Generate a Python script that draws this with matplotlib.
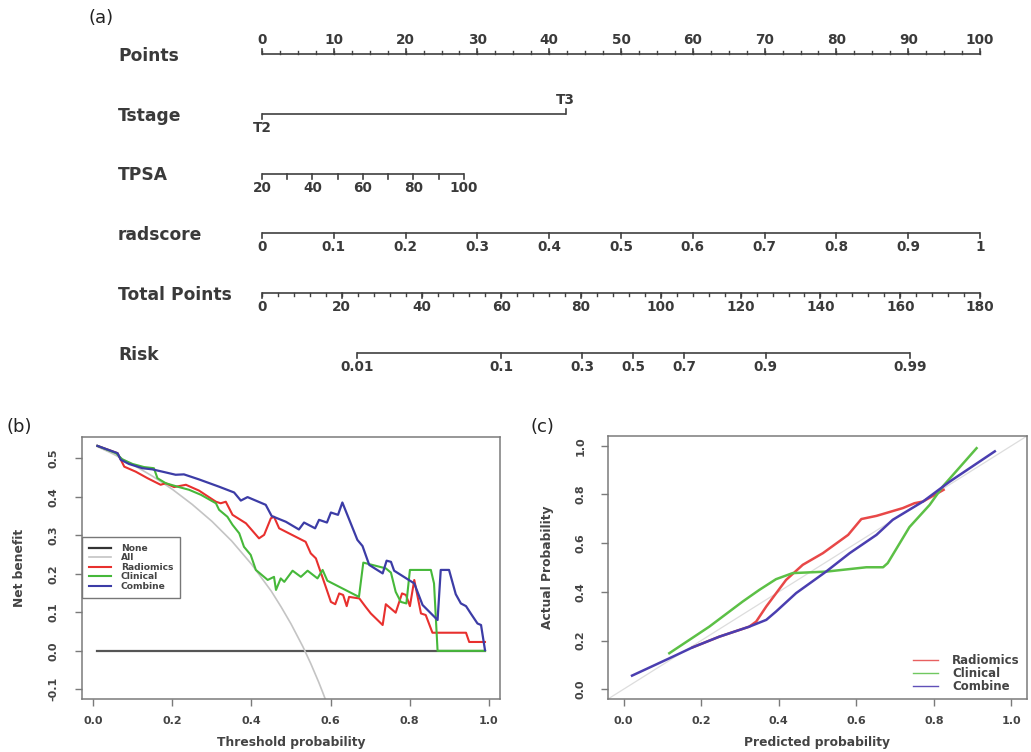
import matplotlib
matplotlib.use("Agg")
import matplotlib.pyplot as plt
from matplotlib.lines import Line2D
import numpy as np

plt.rcParams['font.family'] = ['DejaVu Sans']

# ---------------- (a) nomogram ----------------
points_ticks = [0, 10, 20, 30, 40, 50, 60, 70, 80, 90, 100]
tstage_levels = ['T2', 'T3']
tstage_points = [0, 42.3]
tpsa_ticks = [20, 30, 40, 50, 60, 70, 80, 90, 100]
tpsa_labels = ['20', '', '40', '', '60', '', '80', '', '100']
tpsa_max_points = 28.1
radscore_ticks = [0, 0.1, 0.2, 0.3, 0.4, 0.5, 0.6, 0.7, 0.8, 0.9, 1]
radscore_labels = ['0', '0.1', '0.2', '0.3', '0.4', '0.5', '0.6', '0.7', '0.8', '0.9', '1']
total_ticks = [0, 20, 40, 60, 80, 100, 120, 140, 160, 180]
risk_ticks = [0.01, 0.1, 0.3, 0.5, 0.7, 0.9, 0.99]
risk_intercept = 93.1   # total points where risk = 0.5
risk_slope = 15.08      # total points per logit unit

# ---------------- (b) decision curve ----------------
all_x = [0.01, 0.05, 0.10, 0.15, 0.20, 0.25, 0.30, 0.35, 0.40, 0.45, 0.475, 0.50, 0.53, 0.55, 0.56, 0.57, 0.58, 0.59]
all_y = [0.530, 0.511, 0.483, 0.453, 0.419, 0.380, 0.336, 0.285, 0.225, 0.155, 0.114, 0.070, 0.011, -0.033, -0.057, -0.081, -0.107, -0.134]

rad_x = [0.01, 0.061, 0.078, 0.107, 0.137, 0.170, 0.183, 0.204, 0.234, 0.267, 0.310, 0.322, 0.335, 0.352, 0.386,
         0.419, 0.432, 0.449, 0.457, 0.470, 0.512, 0.537, 0.550, 0.563, 0.588, 0.601, 0.612, 0.622, 0.632, 0.641,
         0.647, 0.673, 0.689, 0.702, 0.732, 0.740, 0.765, 0.781, 0.791, 0.801, 0.812, 0.829, 0.841, 0.858, 0.943,
         0.951, 0.991]
rad_y = [0.532, 0.513, 0.478, 0.465, 0.448, 0.431, 0.435, 0.425, 0.431, 0.416, 0.387, 0.383, 0.387, 0.353, 0.331,
         0.292, 0.301, 0.344, 0.348, 0.318, 0.296, 0.283, 0.253, 0.240, 0.166, 0.127, 0.121, 0.149, 0.145, 0.116,
         0.140, 0.136, 0.114, 0.097, 0.067, 0.121, 0.099, 0.149, 0.145, 0.116, 0.184, 0.097, 0.093, 0.047, 0.047,
         0.023, 0.023]

cli_x = [0.01, 0.057, 0.073, 0.099, 0.128, 0.153, 0.162, 0.183, 0.213, 0.242, 0.272, 0.310, 0.318, 0.339, 0.352,
         0.369, 0.381, 0.398, 0.411, 0.441, 0.457, 0.462, 0.474, 0.483, 0.504, 0.525, 0.542, 0.567, 0.580, 0.592,
         0.672, 0.683, 0.740, 0.753, 0.765, 0.778, 0.792, 0.801, 0.854, 0.862, 0.871, 0.991]
cli_y = [0.532, 0.513, 0.497, 0.485, 0.477, 0.474, 0.448, 0.435, 0.426, 0.418, 0.405, 0.383, 0.366, 0.348, 0.327,
         0.305, 0.270, 0.249, 0.210, 0.184, 0.192, 0.158, 0.188, 0.179, 0.208, 0.192, 0.208, 0.188, 0.210, 0.182,
         0.140, 0.229, 0.214, 0.203, 0.153, 0.127, 0.123, 0.210, 0.210, 0.175, 0.0, 0.0]

com_x = [0.01, 0.061, 0.069, 0.090, 0.124, 0.149, 0.179, 0.208, 0.229, 0.267, 0.318, 0.356, 0.373, 0.390, 0.436,
         0.451, 0.487, 0.520, 0.533, 0.561, 0.571, 0.591, 0.601, 0.619, 0.630, 0.668, 0.681, 0.698, 0.732, 0.742,
         0.753, 0.761, 0.812, 0.833, 0.871, 0.879, 0.900, 0.917, 0.930, 0.943, 0.955, 0.972, 0.981, 0.991]
com_y = [0.532, 0.513, 0.496, 0.485, 0.474, 0.471, 0.464, 0.457, 0.458, 0.445, 0.426, 0.411, 0.390, 0.399, 0.379,
         0.350, 0.335, 0.315, 0.333, 0.318, 0.340, 0.333, 0.359, 0.353, 0.385, 0.288, 0.272, 0.223, 0.201, 0.234,
         0.231, 0.208, 0.175, 0.119, 0.080, 0.210, 0.210, 0.147, 0.123, 0.116, 0.097, 0.071, 0.067, 0.002]

# ---------------- (c) calibration ----------------
cal_rad_x = [0.178, 0.247, 0.324, 0.342, 0.368, 0.419, 0.462, 0.514, 0.579, 0.613, 0.652, 0.720, 0.750, 0.772, 0.825]
cal_rad_y = [0.172, 0.216, 0.257, 0.278, 0.340, 0.449, 0.511, 0.559, 0.634, 0.699, 0.712, 0.744, 0.764, 0.771, 0.819]
cal_cli_x = [0.118, 0.221, 0.307, 0.350, 0.393, 0.436, 0.522, 0.626, 0.669, 0.681, 0.720, 0.737, 0.789, 0.823, 0.910]
cal_cli_y = [0.148, 0.257, 0.360, 0.408, 0.452, 0.477, 0.483, 0.501, 0.501, 0.518, 0.621, 0.666, 0.757, 0.833, 0.990]
cal_com_x = [0.022, 0.118, 0.178, 0.247, 0.324, 0.368, 0.393, 0.445, 0.522, 0.583, 0.652, 0.694, 0.772, 0.841, 0.957]
cal_com_y = [0.056, 0.127, 0.172, 0.216, 0.257, 0.285, 0.319, 0.395, 0.483, 0.559, 0.634, 0.696, 0.771, 0.853, 0.977]

RED = '#e8302e'
GREEN = '#46b83a'
BLUE = '#3c3ca6'
TXT = '#3a3a3a'
LINE = '#404040'

fig = plt.figure(figsize=(10.31, 7.52), dpi=100)

# nomogram axes: x in "points" units, y in row units
axa = fig.add_axes([0, 352 / 752, 1, 400 / 752])
axa.set_xlim(-262 / 7.18, (1031 - 262) / 7.18)
row_px = 59.8
axa.set_ylim((400 - 54) / row_px, -54 / row_px)
axa.axis('off')

tick_major = 5 / row_px
tick_minor = 3 / row_px
lab_off = 14.0 / row_px
fs_nom = 9.8


def draw_scale(row, pos, labels, sides, minor=()):
    axa.plot([min(pos), max(pos)], [row, row], color=LINE, lw=1.2, solid_capstyle='butt')
    for p, lab, side in zip(pos, labels, sides):
        s = -1 if side == 'above' else 1
        axa.plot([p, p], [row, row + s * tick_major], color=LINE, lw=1.2)
        if lab:
            axa.text(p, row + s * lab_off, lab, ha='center', va='center', fontsize=fs_nom,
                     color=TXT, fontweight='bold')
    s = -1 if sides[0] == 'above' else 1
    for p in minor:
        axa.plot([p, p], [row, row + s * tick_minor], color=LINE, lw=1.0)


row_names = ['Points', 'Tstage', 'TPSA', 'radscore', 'Total Points', 'Risk']
for i, name in enumerate(row_names):
    axa.text(-20.06, i + 0.03, name, ha='left', va='center', fontsize=12.3, color=TXT, fontweight='bold')

# Points
draw_scale(0, points_ticks, [str(v) for v in points_ticks], ['above'] * len(points_ticks),
           minor=np.arange(0, 100.01, 2.5))
# Tstage
draw_scale(1, tstage_points, tstage_levels, ['below', 'above'])
# TPSA
tpsa_pts = [(v - tpsa_ticks[0]) / (tpsa_ticks[-1] - tpsa_ticks[0]) * tpsa_max_points for v in tpsa_ticks]
draw_scale(2, tpsa_pts, tpsa_labels, ['below'] * len(tpsa_pts))
# radscore
draw_scale(3, [v * 100 for v in radscore_ticks], radscore_labels, ['below'] * len(radscore_ticks))
# Total points
draw_scale(4, [v * 100 / 180 for v in total_ticks], [str(v) for v in total_ticks], ['below'] * len(total_ticks),
           minor=np.arange(0, 180.01, 4) * 100 / 180)
# Risk
risk_total = [risk_intercept + risk_slope * np.log(r / (1 - r)) for r in risk_ticks]
draw_scale(5, [t * 100 / 180 for t in risk_total], [str(r) for r in risk_ticks], ['below'] * len(risk_ticks))

fig.text(89 / 1031, 1 - 18 / 752, '(a)', fontsize=13, color='#222222', va='center', ha='left')
fig.text(7 / 1031, 1 - 427 / 752, '(b)', fontsize=13, color='#222222', va='center', ha='left')
fig.text(530 / 1031, 1 - 427 / 752, '(c)', fontsize=13, color='#222222', va='center', ha='left')


def style_axes(ax, ypad):
    for sp in ax.spines.values():
        sp.set_color('#7a7a7a')
        sp.set_linewidth(1.1)
    ax.tick_params(direction='out', length=5, width=1, color='#7a7a7a', labelcolor='#444444', labelsize=8)
    ax.tick_params(axis='x', pad=7)
    ax.tick_params(axis='y', pad=ypad)
    for t in ax.get_xticklabels() + ax.get_yticklabels():
        t.set_fontweight('bold')
    plt.setp(ax.get_yticklabels(), rotation=90, va='center')


# ---------------- (b) ----------------
axb = fig.add_axes([82 / 1031, 53 / 752, 418 / 1031, 262 / 752])
axb.plot([0.01, 0.99], [0, 0], color='#555555', lw=1.6)
axb.plot(all_x, all_y, color='#c4c4c4', lw=1.2)
axb.plot(rad_x, rad_y, color=RED, lw=1.5)
axb.plot(cli_x, cli_y, color=GREEN, lw=1.5)
axb.plot(com_x, com_y, color=BLUE, lw=1.6)
axb.set_xlim(-0.029, 1.029)
axb.set_ylim(-0.125, 0.555)
axb.set_xticks([0.0, 0.2, 0.4, 0.6, 0.8, 1.0])
axb.set_xticklabels(['0.0', '0.2', '0.4', '0.6', '0.8', '1.0'])
axb.set_yticks([-0.1, 0.0, 0.1, 0.2, 0.3, 0.4, 0.5])
axb.set_yticklabels(['-0.1', '0.0', '0.1', '0.2', '0.3', '0.4', '0.5'])
style_axes(axb, 12)
axb.set_xlabel('Threshold probability', fontsize=8.8, color='#444444', fontweight='bold')
axb.set_ylabel('Net benefit', fontsize=8.8, color='#444444', fontweight='bold')
axb.xaxis.set_label_coords(0.5, (699 - 736) / 262)
axb.yaxis.set_label_coords((26 - 82) / 418, 0.5)

handles = [Line2D([], [], color='#333333', lw=1.6), Line2D([], [], color='#c4c4c4', lw=1.2),
           Line2D([], [], color=RED, lw=1.5), Line2D([], [], color=GREEN, lw=1.5),
           Line2D([], [], color=BLUE, lw=1.5)]
leg = axb.legend(handles, ['None', 'All', 'Radiomics', 'Clinical', 'Combine'], loc='upper left',
                 bbox_to_anchor=(0.0, (699 - 537) / 262), borderaxespad=0,
                 prop={'size': 6.6, 'weight': 'bold'}, frameon=True,
                 fancybox=False, edgecolor='#777777', framealpha=1, handlelength=2.4, handletextpad=1.1,
                 labelspacing=0.05, borderpad=0.75)
leg.get_frame().set_linewidth(1.0)
for t in leg.get_texts():
    t.set_color('#444444')

# ---------------- (c) ----------------
axc = fig.add_axes([608 / 1031, 53 / 752, 419 / 1031, 263 / 752])
axc.axline((0, 0), (1, 1), color='#dddddd', lw=0.9)
axc.plot(cal_rad_x, cal_rad_y, color='#e84848', lw=1.8)
axc.plot(cal_cli_x, cal_cli_y, color='#5cc046', lw=1.8)
axc.plot(cal_com_x, cal_com_y, color='#4a3eb0', lw=1.8)
axc.set_xlim(-0.04, 1.04)
axc.set_ylim(-0.04, 1.04)
axc.set_xticks([0.0, 0.2, 0.4, 0.6, 0.8, 1.0])
axc.set_xticklabels(['0.0', '0.2', '0.4', '0.6', '0.8', '1.0'])
axc.set_yticks([0.0, 0.2, 0.4, 0.6, 0.8, 1.0])
axc.set_yticklabels(['0.0', '0.2', '0.4', '0.6', '0.8', '1.0'])
style_axes(axc, 11)
axc.set_xlabel('Predicted probability', fontsize=8.8, color='#444444', fontweight='bold')
axc.set_ylabel('Actual Probability', fontsize=8.8, color='#444444', fontweight='bold')
axc.xaxis.set_label_coords(0.5, (699 - 736) / 263)
axc.yaxis.set_label_coords((554 - 608) / 419, 0.5)
handles_c = [Line2D([], [], color='#e86060', lw=1.0), Line2D([], [], color='#70c860', lw=1.0),
             Line2D([], [], color='#6050b8', lw=1.0)]
legc = axc.legend(handles_c, ['Radiomics', 'Clinical', 'Combine'], loc='upper left',
                  bbox_to_anchor=((913 - 608) / 419, (699 - 654) / 263), borderaxespad=0, borderpad=0,
                  frameon=False, prop={'size': 8.5, 'weight': 'bold'}, handlelength=2.1,
                  handletextpad=1.2, labelspacing=0.02)
for t in legc.get_texts():
    t.set_color('#444444')

fig.savefig('out.png', dpi=100)
